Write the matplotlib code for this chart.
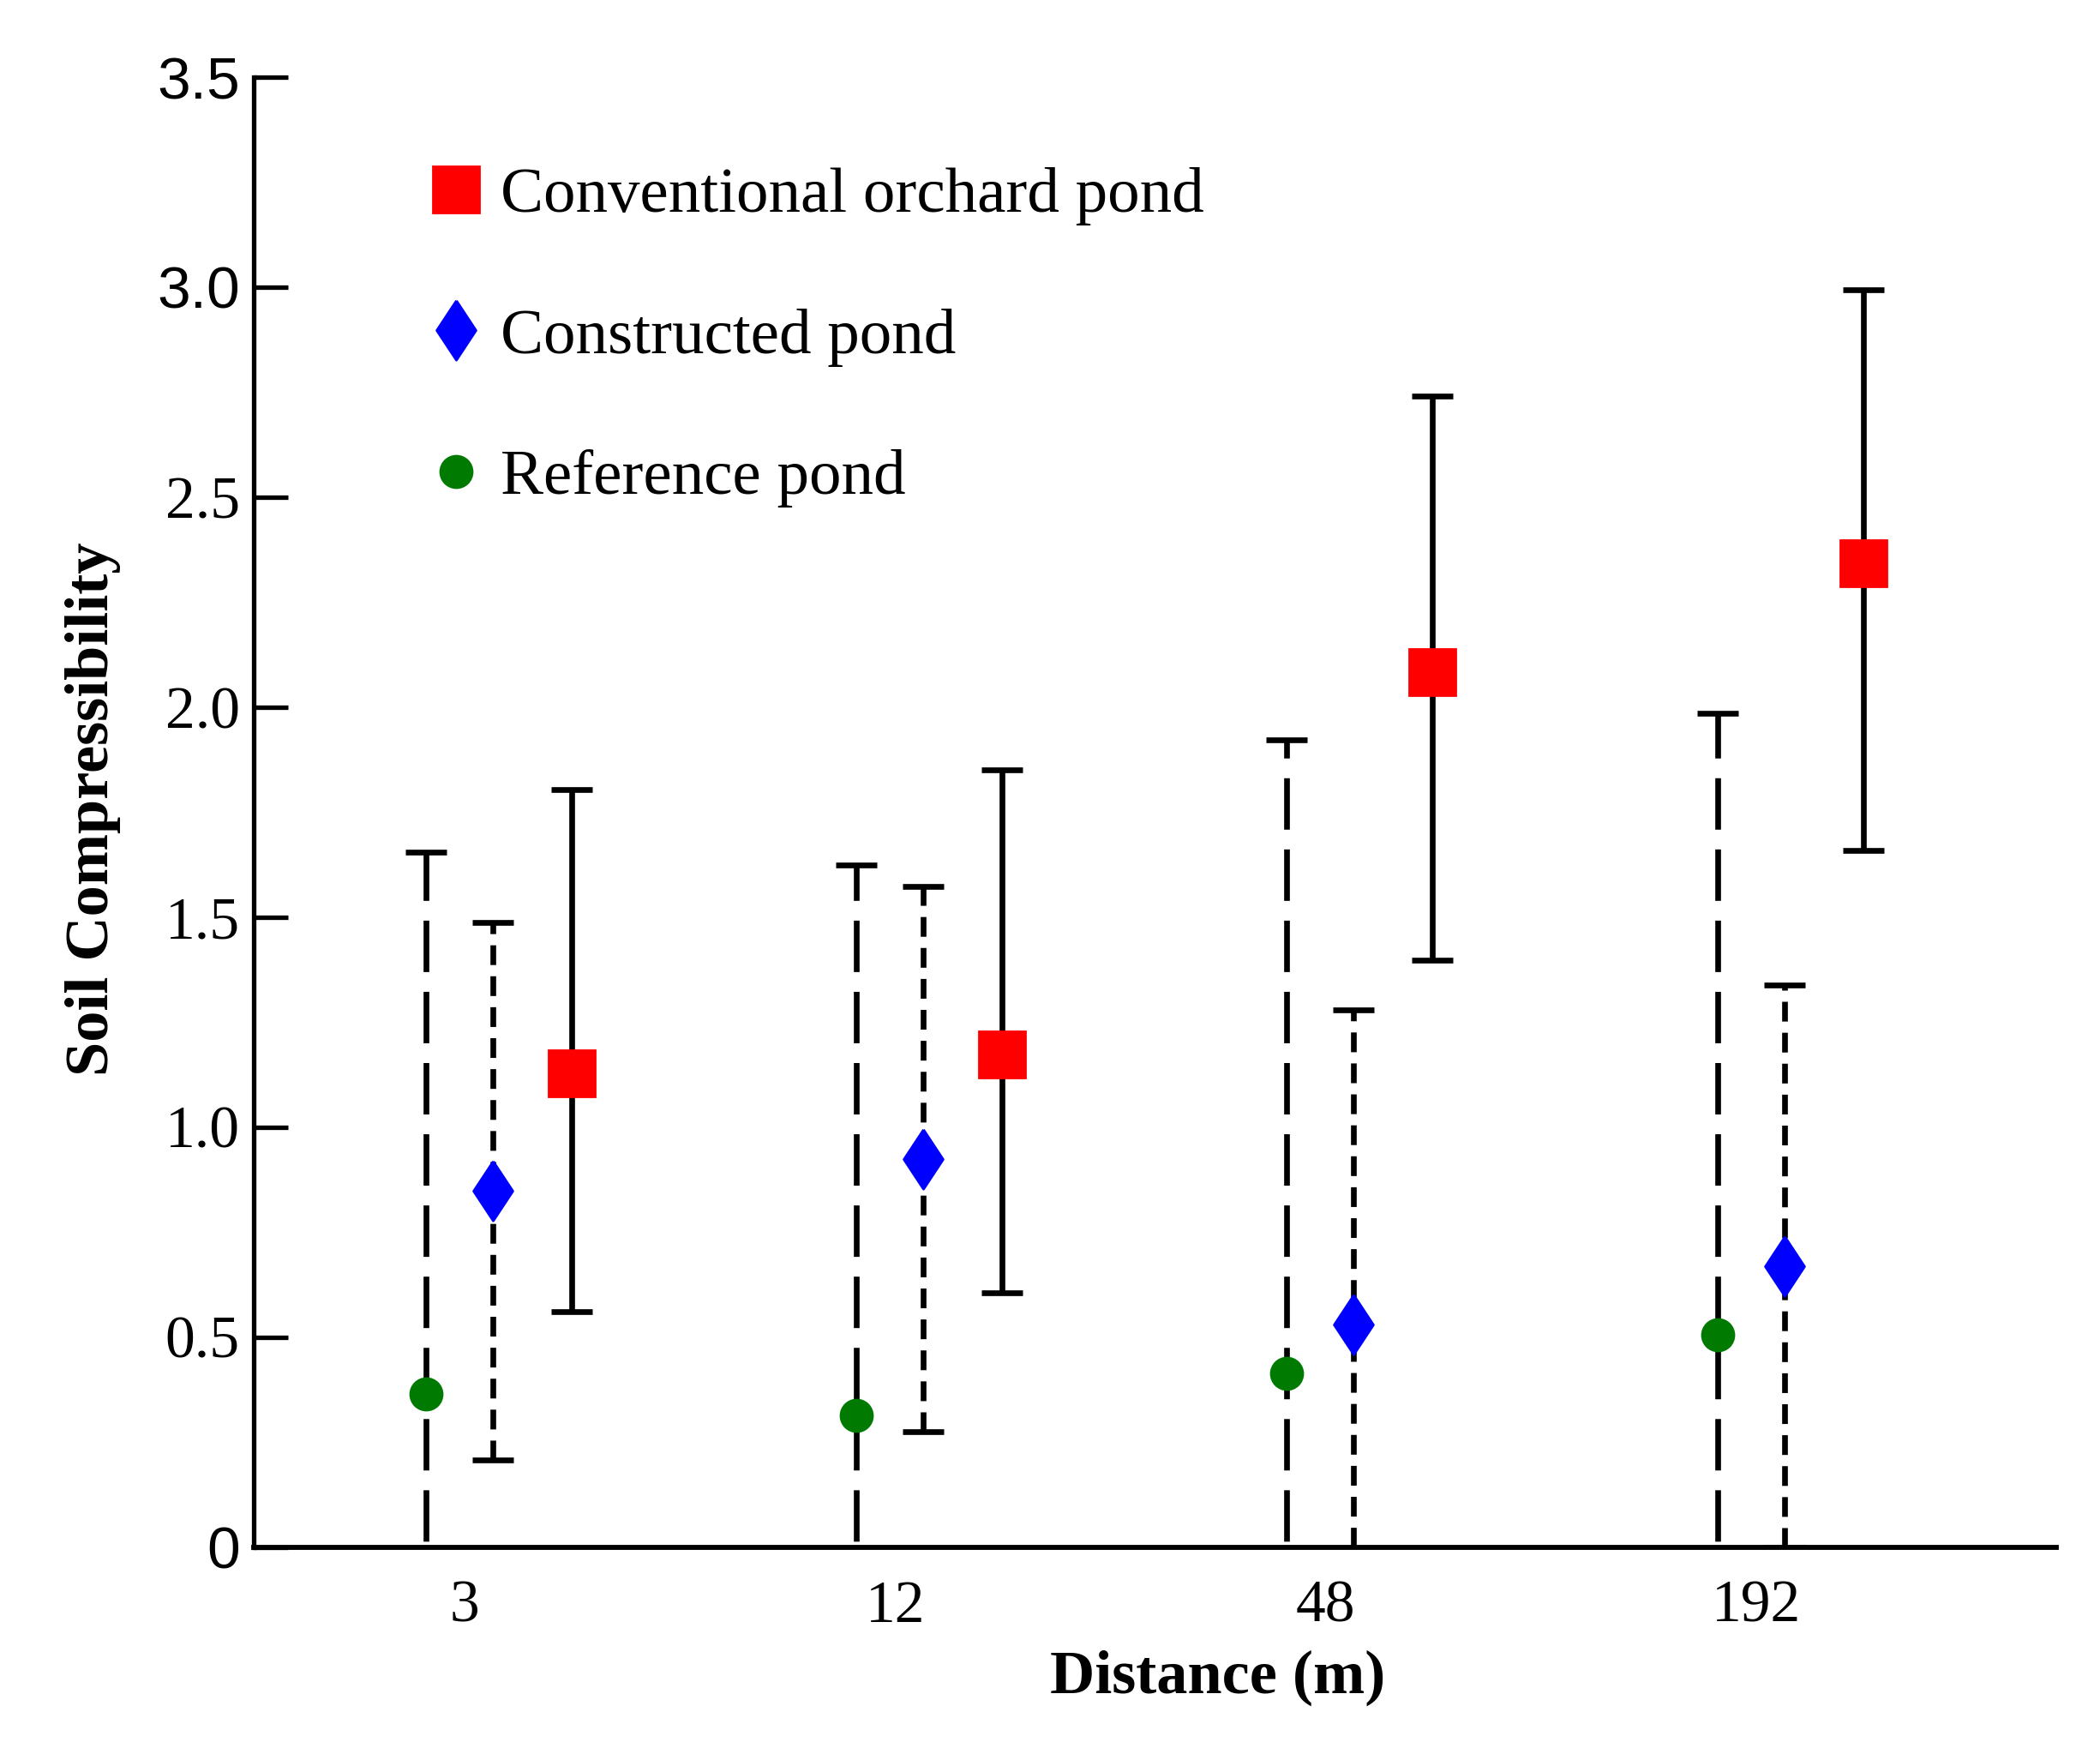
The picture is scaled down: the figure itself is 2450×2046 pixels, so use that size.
import numpy as np
import matplotlib.pyplot as plt

plt.rcParams['font.family'] = ['Liberation Serif', 'DejaVu Serif']
plt.rcParams['lines.scale_dashes'] = False

# distances (m)
distances = ['3', '12', '48', '192']

# reference pond: mean and sd
ref_mean = [0.365, 0.314, 0.413, 0.506]
ref_err = [1.29, 1.31, 1.51, 1.48]

# constructed pond
con_mean = [0.848, 0.924, 0.529, 0.669]
con_err = [0.64, 0.65, 0.75, 0.67]

# conventional orchard pond (lower / upper error)
orch_mean = [1.127, 1.172, 2.084, 2.342]
orch_lo = [0.566, 0.567, 0.686, 0.683]
orch_hi = [0.676, 0.678, 0.656, 0.652]

fig, ax = plt.subplots(figsize=(12.25, 10.23), dpi=200)
fig.subplots_adjust(left=0.121, right=0.979, bottom=0.118, top=0.956)

x = np.arange(len(distances))
x_ref = x - 0.155
x_con = x
x_orch = x + 0.183

# tall diamond like the original
diamond = [(0, 1), (0.66, 0), (0, -1), (-0.66, 0), (0, 1)]


def draw(xpos, mean, err, dash, color, marker, ms, label):
    eb = ax.errorbar(xpos, mean, yerr=err, fmt='none', ecolor='black',
                     elinewidth=2.4, capsize=8.5, capthick=2.4, zorder=2)
    if dash is not None:
        eb[2][0].set_linestyle((0, dash))
    h, = ax.plot(xpos, mean, linestyle='none', marker=marker, ms=ms,
                 color=color, mec=color, label=label, zorder=3)
    return h


h_ref = draw(x_ref, ref_mean, ref_err, (21.6, 8.3), '#007a00', 'o', 13.3, 'Reference pond')
h_con = draw(x_con, con_mean, con_err, (8.3, 4.7), '#0000ff', diamond, 25, 'Constructed pond')
h_orch = draw(x_orch, orch_mean, [orch_lo, orch_hi], None, '#ff0000', 's', 19.5,
              'Conventional orchard pond')

ax.set_xlim(-0.554, 3.631)
ax.set_ylim(0, 3.5)

ax.spines['top'].set_visible(False)
ax.spines['right'].set_visible(False)
ax.spines['left'].set_linewidth(1.9)
ax.spines['bottom'].set_linewidth(2.1)

ax.set_xticks(x - 0.065)
ax.set_xticklabels(distances)
ax.tick_params(axis='x', length=0, pad=14, labelsize=25)

yt = np.arange(0, 3.51, 0.5)
ax.set_yticks(yt)
ax.set_yticklabels(['0'] + ['%.1f' % v for v in yt[1:]])
ax.tick_params(axis='y', direction='in', length=14.4, width=1.9, labelsize=25, pad=6)
for lbl in ax.get_yticklabels():
    if lbl.get_text() in ('0', '3.0', '3.5'):
        lbl.set_fontfamily(['Liberation Sans', 'DejaVu Sans'])

ax.set_xlabel('Distance (m)', fontsize=26, fontweight='bold')
ax.xaxis.set_label_coords(0.535, -0.07)
ax.set_ylabel('Soil Compressibility', fontsize=26, fontweight='bold')
ax.yaxis.set_label_coords(-0.074, 0.502)

ax.legend(handles=[h_orch, h_con, h_ref], loc='center left',
          bbox_to_anchor=(0.094, 0.823), frameon=False, fontsize=27,
          handlelength=1.0, handletextpad=0.2, labelspacing=1.28,
          borderpad=0, borderaxespad=0, numpoints=1)

fig.savefig('out.png', dpi=200)
